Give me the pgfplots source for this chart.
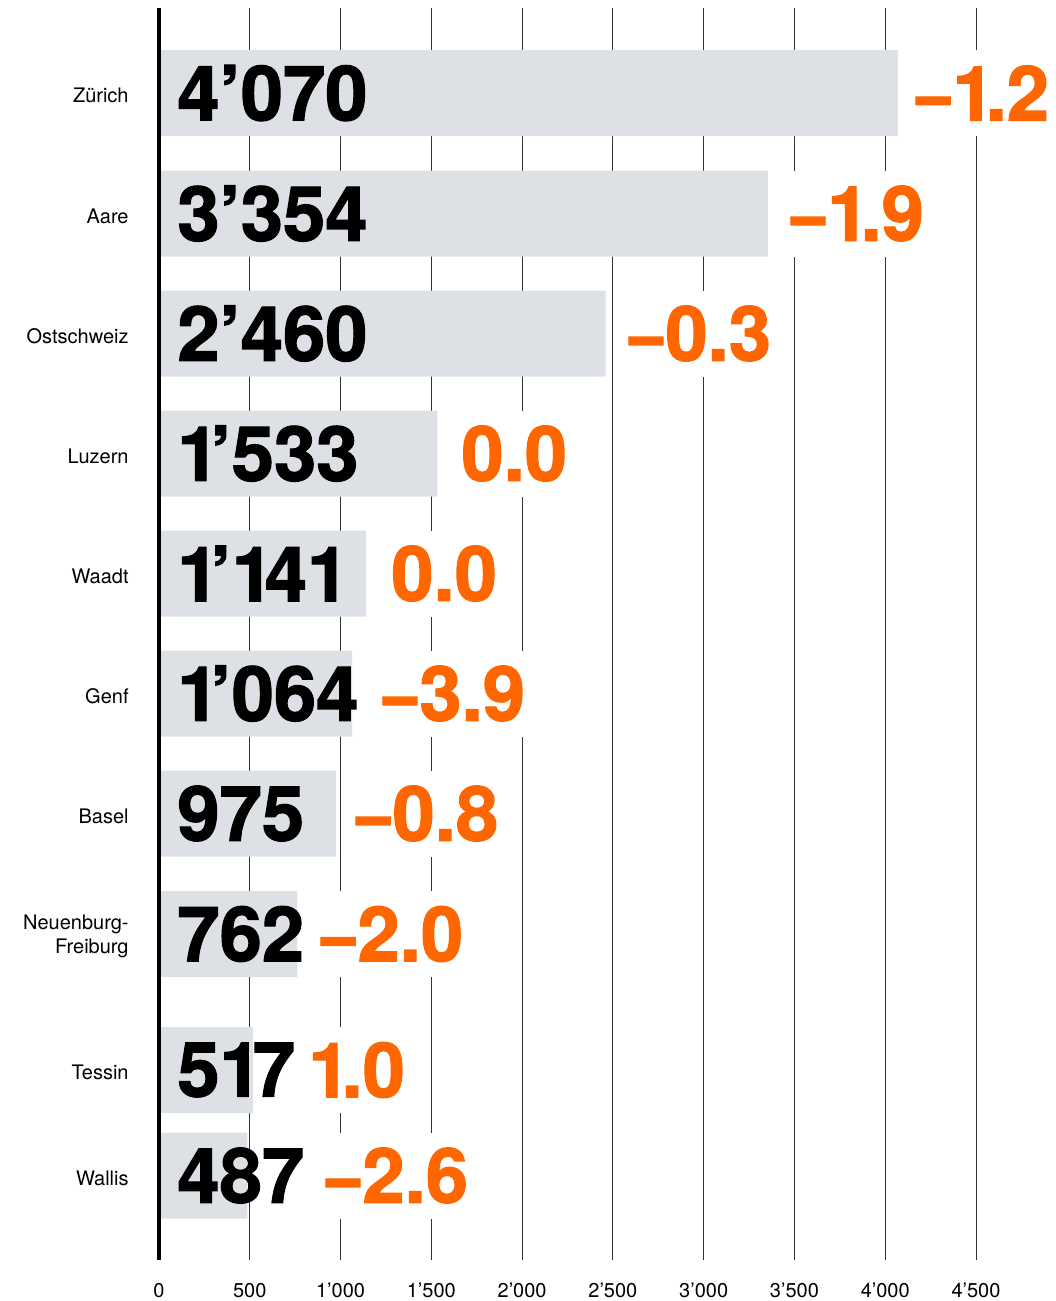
\documentclass[border=0pt]{standalone}
\usepackage{graphicx}
\usepackage{pgfplots}
\pgfplotsset{compat=1.18}
\usepackage{pgfplotstable}
\usepackage{fontspec}
\setmainfont{TeX Gyre Heros}
\newfontface\heavy[FakeBold=1.6]{TeX Gyre Heros Bold}
\definecolor{bargray}{RGB}{221,224,228}
\definecolor{numorange}{RGB}{255,102,0}
\newcommand\I{1\kern-.12em}
\newcommand\M{\scalebox{0.8}[1]{–}\kern.03em}

\pgfplotstableread{
y      val   lab         ox     olab
93     4070  4’070       4153   \M\I.2
213.5  3354  3’354       3464   \M\I.9
333.5  2460  2’460       2572   \M0.3
453.5  1533  \I’533      1647   0.0
573.5  1141  \I’\I4\I{}  1261   0.0
693.5  1064  \I’064      1217   \M3.9
813.5  975   975         1069   \M0.8
934    762   762         876    \M2.0
1070   517   5\I7        804    \I.0
1175.5 487   487         903    \M2.6
}\datatable

\begin{document}
\begin{tikzpicture}
\begin{axis}[
  at={(0,0)}, anchor=south west,
  scale only axis,
  width=408.5bp, height=626bp,
  xmin=0, xmax=4500,
  ymin=8, ymax=1260,
  y dir=reverse,
  clip=false,
  axis x line*=bottom, axis y line*=left,
  axis line style={draw=none},
  major tick length=0pt,
  xmajorgrids,
  grid style={black!80, line width=0.5bp},
  xtick={0,500,1000,1500,2000,2500,3000,3500,4000,4500},
  xticklabels={0,500,1’000,1’500,2’000,2’500,3’000,3’500,4’000,4’500},
  ytick={93,213.5,333.5,453.5,573.5,693.5,813.5,934,1070,1175.5},
  yticklabels={Zürich,Aare,Ostschweiz,Luzern,Waadt,Genf,Basel,{Neuenburg-\\Freiburg},Tessin,Wallis},
  xticklabel style={font=\fontsize{10bp}{12bp}\selectfont, anchor=north, inner sep=0pt, yshift=-11.5bp},
  yticklabel style={font=\fontsize{10bp}{12bp}\selectfont, anchor=east, align=right, inner sep=0pt, xshift=-15bp, yshift=-1.2bp},
]
\addplot[xbar, bar width=43bp, fill=bargray, draw=none] table[x=val, y=y] {\datatable};

\addplot[draw=none, mark=none, point meta=explicit symbolic,
  nodes near coords,
  nodes near coords style={anchor=west, inner sep=0pt, xshift=9bp, text=black,
    font=\heavy\fontsize{38bp}{38bp}\selectfont}]
  table[x expr=0, y=y, meta=lab] {\datatable};

\addplot[draw=none, mark=none, point meta=explicit symbolic,
  nodes near coords,
  nodes near coords style={anchor=west, inner ysep=0pt, inner xsep=1.5bp, fill=white,
    minimum height=43bp, text=numorange,
    font=\heavy\fontsize{38bp}{38bp}\selectfont}]
  table[x=ox, y=y, meta=olab] {\datatable};

\draw[black, line width=1.6bp] (rel axis cs:0,0) -- (rel axis cs:0,1);
\end{axis}
\pgfresetboundingbox
\path[use as bounding box] (-79.5bp,-20.5bp) rectangle (448.5bp,630bp);
\end{tikzpicture}
\end{document}
